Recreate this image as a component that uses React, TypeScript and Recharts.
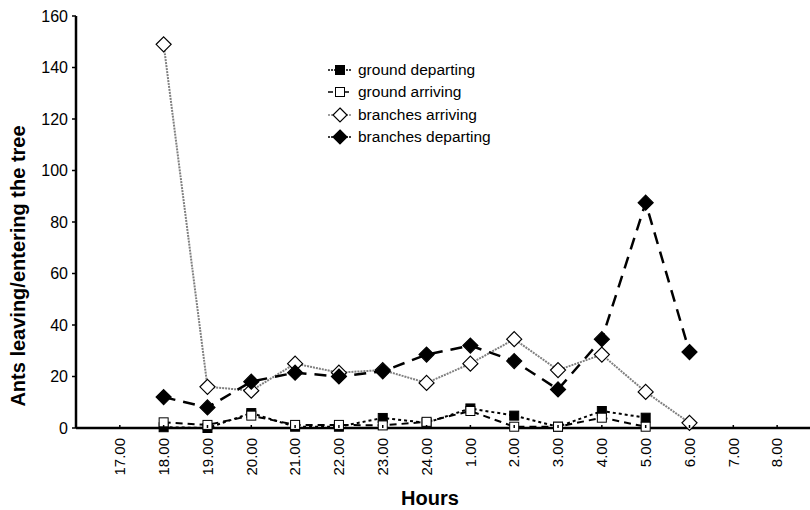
import React from 'react';
import { LineChart, Line, XAxis, YAxis } from 'recharts';

const hourLabels = ['17.00', '18.00', '19.00', '20.00', '21.00', '22.00', '23.00', '24.00', '1.00', '2.00', '3.00', '4.00', '5.00', '6.00', '7.00', '8.00'];
const groundDeparting = [null, 0.3, 0, 5.8, 0.5, 0.5, 3.9, 2, 7.6, 4.8, 0.5, 6.6, 4, null, null, null];
const groundArriving = [null, 2.2, 1.2, 4.8, 1.2, 1.2, 1, 2.4, 6.6, 0.5, 0.5, 4, 0.5, null, null, null];
const branchesArriving = [null, 149, 16, 14.5, 25, 21.5, 22.5, 17.5, 25, 34.5, 22.5, 28.5, 14, 2, null, null];
const branchesDeparting = [null, 12, 8, 18, 21.5, 20, 22, 28.5, 32, 26, 15, 34.5, 87.5, 29.5, null, null];
const yTicks = [0, 20, 40, 60, 80, 100, 120, 140, 160];

const data = hourLabels.map((h, i) => ({
  x: i + 1,
  hour: h,
  gd: groundDeparting[i],
  ga: groundArriving[i],
  ba: branchesArriving[i],
  bd: branchesDeparting[i],
}));

const FONT = 'Arial, "Liberation Sans", Helvetica, sans-serif';

const Square = ({ cx, cy, fill, size = 9 }: any) => (
  <rect x={cx - size / 2} y={cy - size / 2} width={size} height={size} fill={fill} stroke="#000" strokeWidth={1} />
);

const Diamond = ({ cx, cy, fill, r = 7.5 }: any) => (
  <path d={`M${cx},${cy - r}L${cx + r},${cy}L${cx},${cy + r}L${cx - r},${cy}Z`} fill={fill} stroke="#000" strokeWidth={1.2} />
);

const makeDot = (kind: string, fill: string) => (p: any) => {
  if (p.value == null || p.cy == null) return <g key={p.index} />;
  return kind === 'square' ? (
    <Square key={p.index} cx={p.cx} cy={p.cy} fill={fill} />
  ) : (
    <Diamond key={p.index} cx={p.cx} cy={p.cy} fill={fill} />
  );
};

const XTick = ({ x, y, payload }: any) => (
  <g>
    <line x1={x} y1={y} x2={x} y2={y - 3} stroke="#000" strokeWidth={1.5} />
    <text
      transform={`translate(${x},${y + 10}) rotate(-90)`}
      textAnchor="end"
      dy="0.35em"
      fontSize={15}
      fontFamily={FONT}
      fill="#000"
    >
      {hourLabels[payload.value - 1]}
    </text>
  </g>
);

const series = [
  { name: 'ground departing', kind: 'square', fill: '#000', stroke: '#000', dash: '3 3' },
  { name: 'ground arriving', kind: 'square', fill: '#fff', stroke: '#000', dash: '7 5' },
  { name: 'branches arriving', kind: 'diamond', fill: '#fff', stroke: '#808080', dash: '2 1' },
  { name: 'branches departing', kind: 'diamond', fill: '#000', stroke: '#000', dash: '12 8' },
];

const LegendBox = () => (
  <div style={{ position: 'absolute', left: 326, top: 59, fontFamily: FONT, fontSize: 15.5, color: '#000' }}>
    {series.map((s) => (
      <div key={s.name} style={{ display: 'flex', alignItems: 'center', height: 22.3 }}>
        <svg width={30} height={22} style={{ marginRight: 2 }}>
          <line x1={2} y1={11} x2={26} y2={11} stroke={s.stroke} strokeWidth={1.5} strokeDasharray={s.kind === 'square' && s.fill === '#fff' ? '5 3' : '2 1'} />
          {s.kind === 'square' ? (
            <Square cx={14} cy={11} fill={s.fill} />
          ) : (
            <Diamond cx={14} cy={11} fill={s.fill} r={7} />
          )}
        </svg>
        <span>{s.name}</span>
      </div>
    ))}
  </div>
);

export default function App() {
  return (
    <div style={{ position: 'absolute', left: 0, top: 0, width: 810, height: 510, background: '#fff' }}>
      <LineChart width={810} height={510} data={data} margin={{ top: 16, right: 0, left: 0, bottom: 0 }}>
        <XAxis
          dataKey="x"
          type="number"
          domain={[0, 16.75]}
          ticks={hourLabels.map((_, i) => i + 1)}
          interval={0}
          height={82}
          tickLine={false}
          tickSize={0}
          tickMargin={0}
          tick={<XTick />}
          axisLine={{ stroke: '#000', strokeWidth: 2.5 }}
        />
        <YAxis
          type="number"
          domain={[0, 160]}
          ticks={yTicks}
          width={76}
          tickSize={4}
          tickMargin={4}
          tickLine={{ stroke: '#000', strokeWidth: 1.5 }}
          axisLine={{ stroke: '#000', strokeWidth: 2.5 }}
          tick={{ fill: '#000', fontSize: 16, fontFamily: FONT }}
        />
        {series.map((s, i) => (
          <Line
            key={s.name}
            name={s.name}
            dataKey={['gd', 'ga', 'ba', 'bd'][i]}
            type="linear"
            stroke={s.stroke}
            strokeWidth={i === 3 ? 2.5 : 2}
            strokeDasharray={s.dash}
            dot={makeDot(s.kind, s.fill)}
            activeDot={false}
            isAnimationActive={false}
          />
        ))}
      </LineChart>
      <LegendBox />
      <svg width={810} height={510} style={{ position: 'absolute', left: 0, top: 0, pointerEvents: 'none' }}>
        <text
          transform="translate(18,266) rotate(-90)"
          textAnchor="middle"
          dominantBaseline="central"
          fontSize={20}
          fontWeight="bold"
          fontFamily={FONT}
          fill="#000"
        >
          Ants leaving/entering the tree
        </text>
        <text x={430} y={505} textAnchor="middle" fontSize={20} fontWeight="bold" fontFamily={FONT} fill="#000">
          Hours
        </text>
      </svg>
    </div>
  );
}
